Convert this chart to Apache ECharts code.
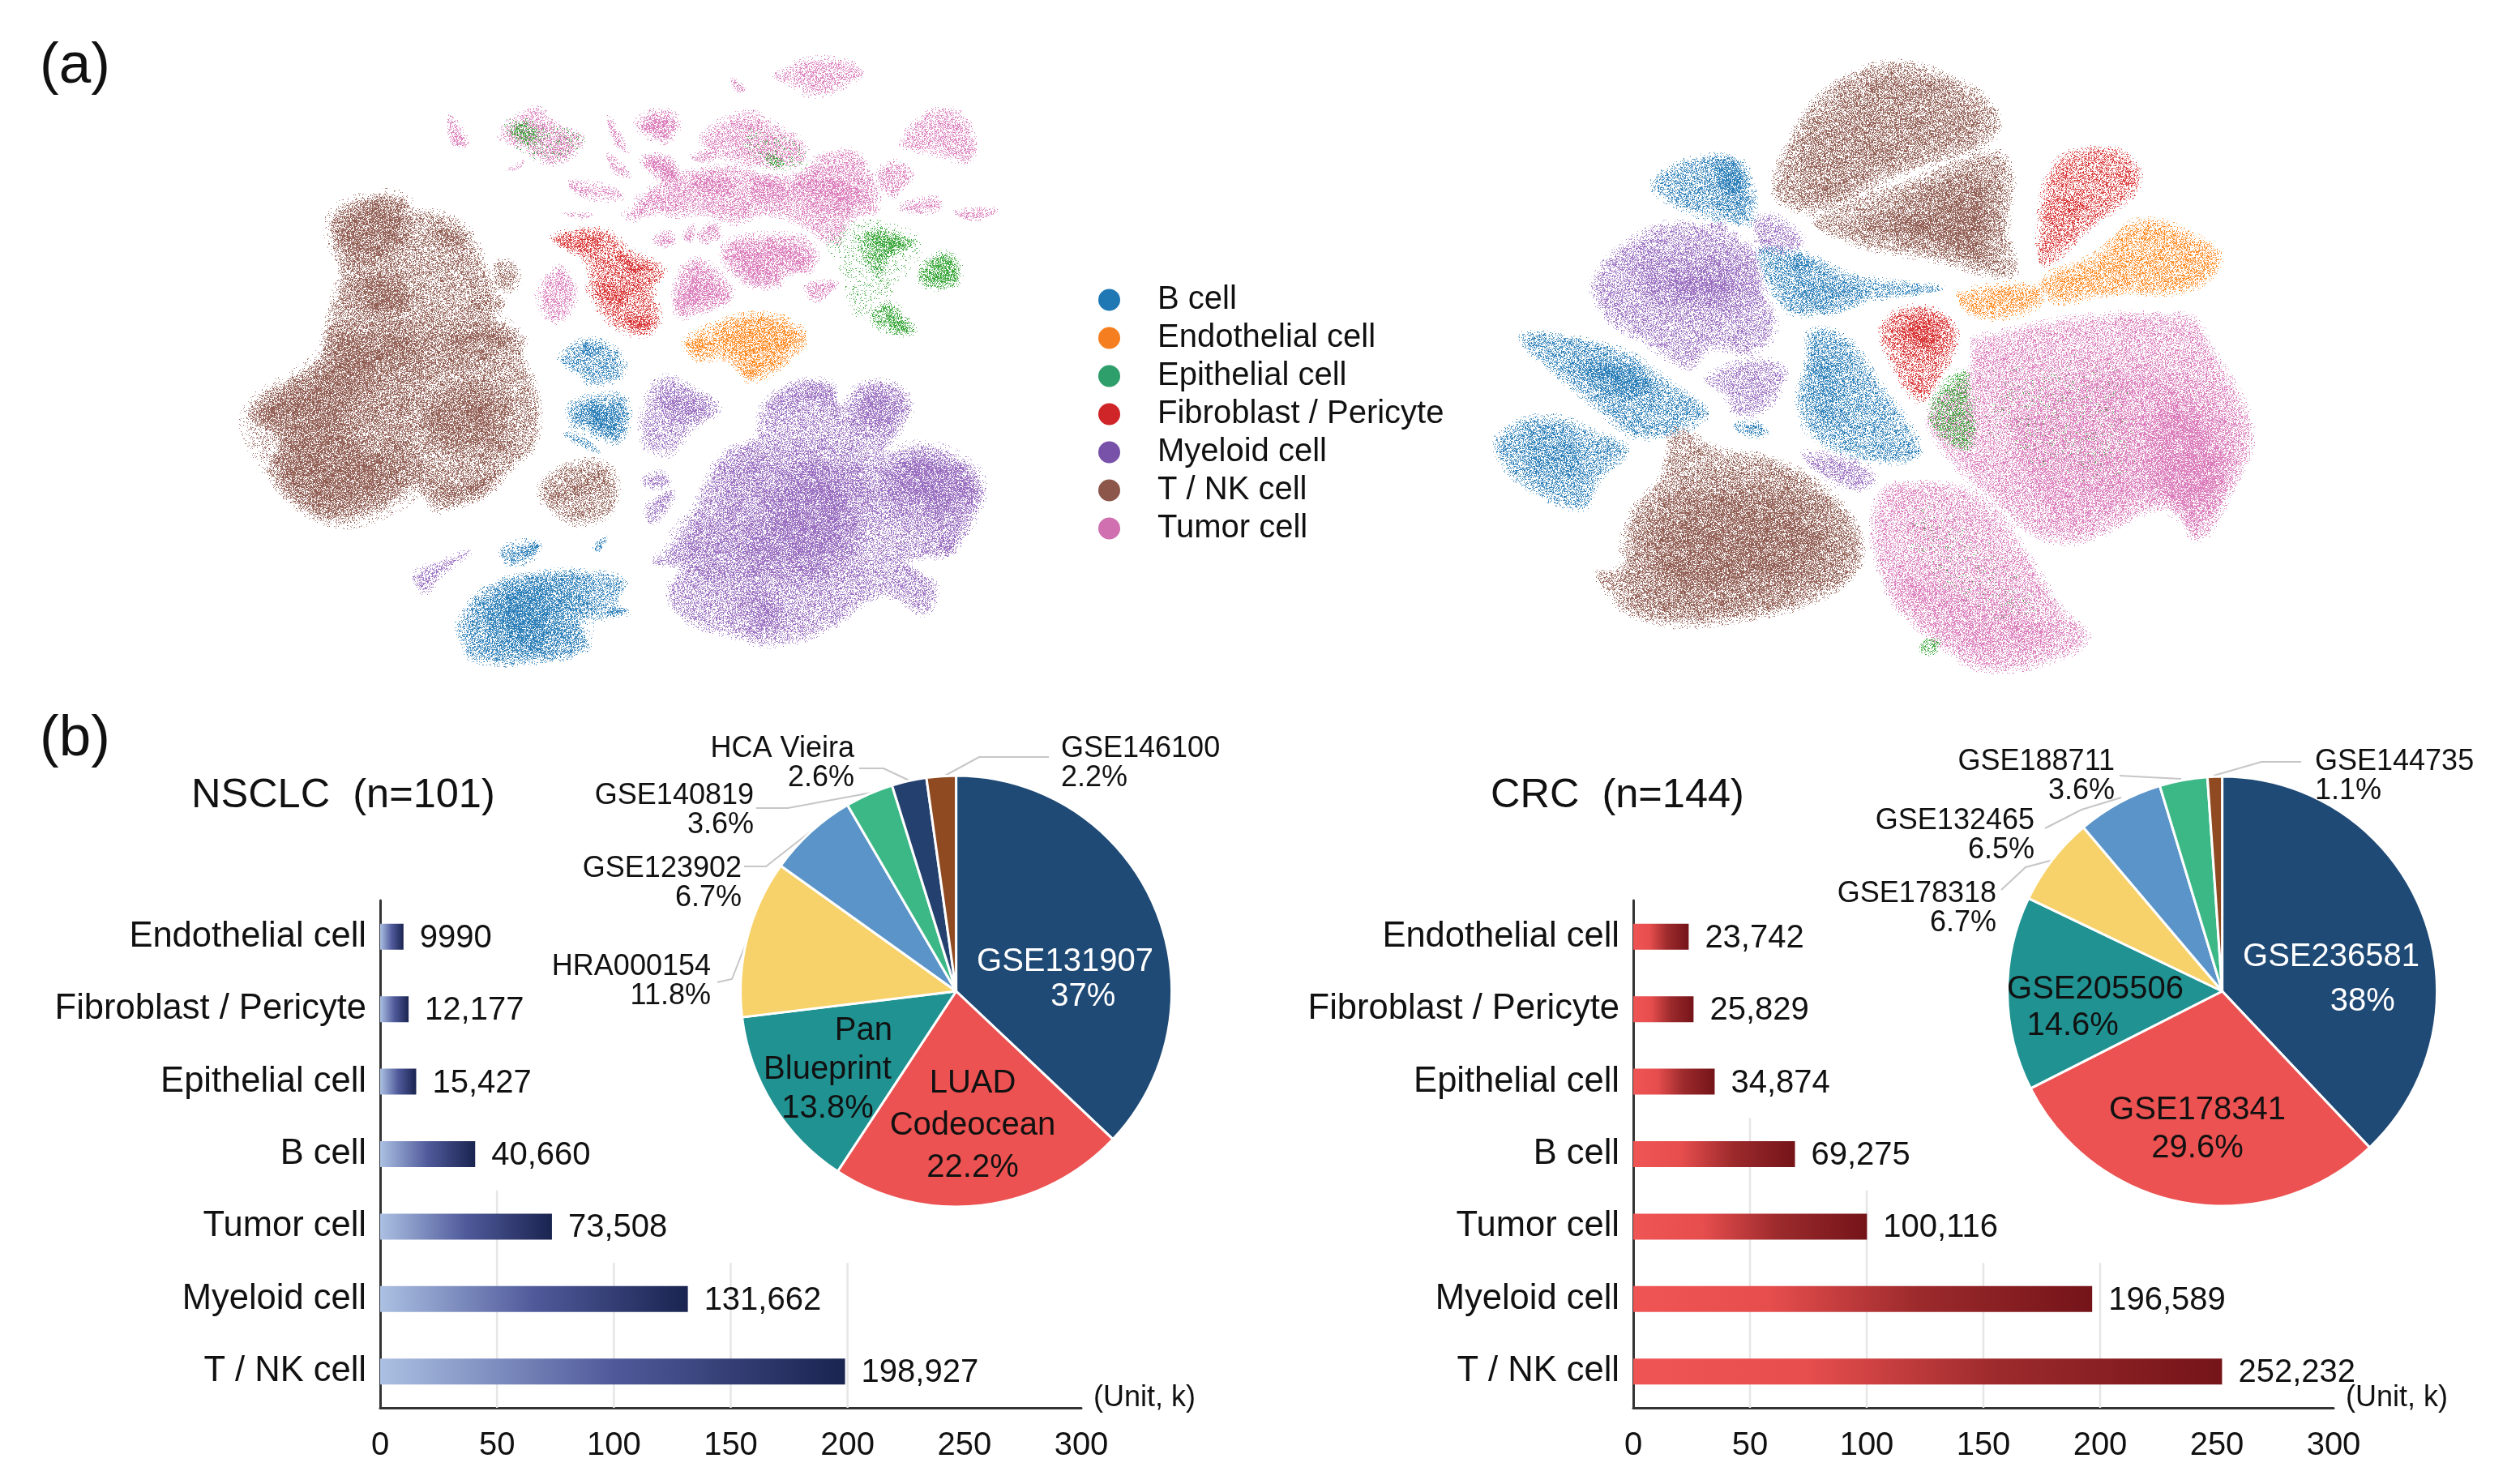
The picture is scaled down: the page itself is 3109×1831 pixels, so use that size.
<!DOCTYPE html>
<html><head><meta charset="utf-8">
<script src="https://cdn.jsdelivr.net/npm/echarts@6/dist/echarts.min.js"></script>
<style>html,body{margin:0;padding:0;background:#fff}#c{width:3109px;height:1831px}</style>
</head><body><div id="c"></div>
<script>
// ---------- bar data ----------
const cellTypes = ['T / NK cell','Myeloid cell','Tumor cell','B cell','Epithelial cell','Fibroblast / Pericyte','Endothelial cell'];
const nsclcCounts = [198927,131662,73508,40660,15427,12177,9990];
const nsclcCountLabels = ['198,927','131,662','73,508','40,660','15,427','12,177','9990'];
const crcCounts = [252232,196589,100116,69275,34874,25829,23742];
const crcCountLabels = ['252,232','196,589','100,116','69,275','34,874','25,829','23,742'];
const axisTicksK = [0,50,100,150,200,250,300];
// gridline value, and how many category bands tall the line is drawn
const nsclcGridlines = [[50000,3],[100000,2],[150000,2],[200000,2]];
const crcGridlines = [[50000,4],[100000,3],[150000,2],[200000,2]];
// ---------- pie data ----------
const nsclcStudies = ['GSE131907','LUAD Codeocean','Pan Blueprint','HRA000154','GSE123902','GSE140819','HCA Vieira','GSE146100'];
const nsclcShares = [37,22.2,13.8,11.8,6.7,3.6,2.6,2.2];
const NB='\u00a0';
const nsclcPieLabels = ['GSE131907\n'+NB.repeat(4)+'37%','LUAD\nCodeocean\n22.2%',NB.repeat(8)+'Pan\nBlueprint\n13.8%','HRA000154\n11.8%','GSE123902\n6.7%','GSE140819\n3.6%','HCA Vieira\n2.6%','GSE146100\n2.2%'];
const crcStudies = ['GSE236581','GSE178341','GSE205506','GSE178318','GSE132465','GSE188711','GSE144735'];
const crcShares = [38,29.6,14.6,6.7,6.5,3.6,1.1];
const crcPieLabels = ['GSE236581\n'+NB.repeat(7)+'38%','GSE178341\n29.6%','GSE205506\n14.6%'+NB.repeat(5),'GSE178318\n6.7%','GSE132465\n6.5%','GSE188711\n3.6%','GSE144735\n1.1%'];
const nsclcPieColors = ['#1f4a75','#ec5252','#219292','#f7d26a','#5a94c8','#3cb887','#24406f','#8f4a22'];
const crcPieColors = ['#1f4a75','#ec5252','#219292','#f7d26a','#5a94c8','#3cb887','#8f4a22'];
// ---------- embedding cluster outlines, in embedding units (y downward) ----------
const nsclcTcellOuter = [
 [[300,385],[370,385],[385,410],[440,420],[490,460],[510,510],[525,560],[540,600],[555,640],[540,680],[590,710],[590,770],[610,830],[620,900],[605,990],[570,1030],[530,1090],[480,1120],[430,1135],[390,1080],[330,1130],[240,1160],[170,1120],[125,1040],[140,970],[85,900],[150,830],[215,770],[235,660],[255,580],[240,480],[245,420]],
 [[545,535],[575,545],[580,590],[560,605],[538,585]],
 [[620,1090],[690,1020],[755,1040],[750,1140],[680,1165]],
 [[490,625],[520,610],[555,640],[510,650]]];
const nsclcTcellMid = [
 [[215,770],[240,690],[560,690],[540,780],[420,820],[400,1000],[420,1040],[360,1120],[240,1160],[125,1040],[85,900]],
 [[245,420],[300,385],[370,385],[380,460],[340,520],[270,530],[240,480]],
 [[270,570],[370,560],[390,650],[300,670],[250,640]],
 [[400,880],[510,820],[570,880],[560,1000],[480,1000],[410,970]]];
const nsclcTcellCore = [
 [[300,395],[365,405],[370,470],[330,525],[275,515],[250,450]],
 [[240,710],[395,710],[395,770],[340,800],[300,860],[285,960],[365,1010],[365,1060],[310,1115],[230,1145],[175,1105],[135,1040],[155,960],[100,900],[155,845],[225,790]],
 [[295,580],[355,580],[375,640],[335,665],[295,635]],
 [[420,885],[500,840],[545,885],[535,975],[480,985],[420,955]],
 [[430,450],[485,475],[465,505],[430,495]],
 [[460,705],[555,695],[555,720],[475,745]],
 [[480,1065],[535,1045],[515,1095],[445,1115],[415,1080]],
 [[630,1105],[740,1045],[745,1060],[660,1110]]];
const nsclcFibroOuter = [[[645,480],[740,460],[790,510],[850,555],[830,600],[840,680],[815,710],[760,690],[715,610],[710,540]]];
const nsclcFibroMid = [];
const nsclcFibroCore = [[[655,485],[735,468],[730,495],[690,508]],[[730,595],[785,605],[775,635],[738,628]],[[765,525],[825,548],[800,575]],[[775,680],[828,672],[815,705]]];
const nsclcEndoOuter = [[[890,730],[960,680],[1030,665],[1090,690],[1110,720],[1070,780],[1040,810],[1005,820],[970,770],[910,770]]];
const nsclcEndoMid = [[[955,700],[1040,672],[1100,712],[1060,775],[985,775]]];
const nsclcEndoCore = [[[888,730],[925,728],[915,752]],[[995,797],[1020,802],[1005,818]]];
const nsclcBcellOuter = [
 [[660,770],[710,725],[770,760],[770,810],[720,830],[690,800]],
 [[680,880],[770,860],[785,905],[765,970],[720,950],[680,930]],
 [[665,950],[700,960],[730,995],[690,975]],
 [[475,1400],[530,1320],[620,1290],[690,1285],[780,1310],[760,1360],[785,1380],[750,1395],[690,1400],[710,1465],[620,1500],[500,1495],[475,1440]],
 [[550,1230],[620,1215],[610,1250],[570,1270]],
 [[720,1225],[745,1200],[730,1235]]];
const nsclcBcellMid = [[[510,1360],[600,1310],[700,1300],[710,1390],[690,1460],[600,1490],[520,1470]],[[690,890],[765,875],[770,960],[715,945]]];
const nsclcBcellCore = [
 [[540,1350],[630,1310],[635,1465],[575,1465],[540,1420]],
 [[705,885],[750,895],[765,945],[722,938]],
 [[700,733],[728,747],[710,768]],
 [[740,1380],[783,1377],[750,1393]],
 [[585,1235],[617,1220],[600,1250]]];
const nsclcMyeloidOuter = [
 [[815,880],[850,815],[900,840],[950,890],[900,940],[860,1000],[825,990],[810,960]],
 [[1030,890],[1090,830],[1160,830],[1175,880],[1210,835],[1270,830],[1305,880],[1280,950],[1260,1000],[1320,985],[1400,1020],[1435,1080],[1420,1150],[1375,1240],[1300,1260],[1350,1320],[1330,1385],[1250,1340],[1170,1410],[1060,1460],[975,1440],[880,1390],[860,1320],[880,1280],[830,1260],[880,1200],[920,1090],[960,1000],[1020,960]],
 [[810,1060],[850,1045],[860,1075],[820,1080]],
 [[815,1130],[870,1090],[830,1170]],
 [[390,1295],[430,1265],[495,1235],[440,1290],[410,1335]],
 [[1350,1220],[1390,1190],[1375,1245]]];
const nsclcMyeloidMid = [
 [[970,1010],[1130,990],[1230,1060],[1210,1220],[1170,1290],[1060,1320],[940,1300],[870,1250],[880,1180],[960,1120]],
 [[1250,1020],[1330,985],[1420,1040],[1430,1100],[1390,1190],[1310,1170],[1240,1100]]];
const nsclcMyeloidCore = [
 [[1090,1050],[1190,1070],[1190,1190],[1160,1260],[1080,1275],[1000,1250],[1040,1150]],
 [[1280,1030],[1330,1000],[1400,1045],[1420,1090],[1390,1140],[1325,1130],[1260,1080]],
 [[1200,880],[1250,840],[1290,885],[1262,950],[1210,940]],
 [[1050,880],[1100,840],[1155,848],[1160,875],[1110,872],[1058,892]],
 [[985,1345],[1035,1340],[1070,1390],[1030,1440],[998,1400]],
 [[850,865],[900,852],[935,890],[890,918],[852,895]],
 [[1355,1210],[1385,1200],[1372,1240]]];
const nsclcTumorOuter = [
 [[800,390],[870,330],[930,310],[990,310],[1050,330],[1100,320],[1140,280],[1200,270],[1235,340],[1240,410],[1200,430],[1165,490],[1100,440],[1040,420],[980,440],[920,420],[860,420]],
 [[920,240],[1000,175],[1060,210],[1110,260],[1090,300],[1010,300],[960,280]],
 [[675,345],[760,360],[775,380],[700,375]],
 [[665,420],[720,420],[700,430]],
 [[810,285],[860,285],[880,340],[850,340]],
 [[775,425],[850,375],[880,395],[810,425],[790,432]],
 [[900,280],[950,260],[940,290],[910,290]],
 [[830,480],[860,460],[870,490],[840,495]],
 [[885,470],[905,445],[900,490]],
 [[915,470],[940,440],[955,470],[925,490]],
 [[965,490],[1040,470],[1120,490],[1125,550],[1075,565],[1060,590],[1010,590],[960,530]],
 [[1110,595],[1170,585],[1130,630]],
 [[800,200],[840,170],[875,190],[860,240],[820,230]],
 [[1055,90],[1130,45],[1215,75],[1180,110],[1120,130],[1080,100]],
 [[1290,250],[1345,170],[1405,190],[1415,285],[1340,270]],
 [[1245,320],[1280,295],[1305,325],[1270,375]],
 [[1280,405],[1350,380],[1360,405],[1310,415]],
 [[1385,415],[1465,410],[1420,435]],
 [[550,230],[610,165],[650,200],[700,240],[650,295],[590,260]],
 [[455,180],[490,250],[460,250]],
 [[745,180],[785,270],[760,250]],
 [[745,275],[790,330],[760,320]],
 [[975,90],[1000,115],[985,125]],
 [[560,315],[595,290],[580,310]],
 [[660,550],[685,620],[650,680],[620,630],[630,580]],
 [[870,610],[900,530],[950,560],[975,620],[930,650],[880,665]]];
const nsclcTumorCore = [
 [[815,288],[855,292],[875,335],[845,332]],
 [[1045,482],[1100,505],[1122,540],[1090,555],[1052,520]],
 [[968,510],[1018,495],[1055,570],[1010,585],[975,540]],
 [[1095,335],[1165,325],[1225,370],[1160,405],[1102,372]],
 [[905,335],[955,325],[975,365],[925,375]],
 [[1012,342],[1058,338],[1068,378],[1022,382]],
 [[815,195],[858,185],[858,228],[825,222]],
 [[880,620],[905,560],[950,590],[965,620],[925,640],[885,655]]];
const nsclcEpithFaint = [[[1150,480],[1230,440],[1320,490],[1270,600],[1210,670],[1175,540]],[[1000,220],[1110,270],[1100,310],[1020,290]],[[560,200],[640,210],[700,240],[650,290],[590,265]]];
const nsclcEpithOuter = [
 [[1210,480],[1235,460],[1310,490],[1260,530],[1250,575],[1225,540]],
 [[1320,560],[1370,515],[1395,550],[1385,590],[1330,590]],
 [[1235,660],[1265,635],[1310,705],[1250,700]],
 [[570,215],[600,195],[620,240],[590,245]],
 [[1040,280],[1060,285],[1070,300],[1045,300]]];
const nsclcEpithCore = [[[1235,472],[1298,490],[1255,518]],[[1325,565],[1375,522],[1390,555],[1378,585],[1335,585]],[[1262,652],[1303,698],[1265,693]]];

const crcTcellOuter = [
 [[1040,55],[1120,90],[1175,170],[1170,240],[1060,320],[950,415],[900,370],[920,240],[960,130]],
 [[1175,270],[1195,320],[1190,460],[1200,560],[1180,570],[1100,530],[1000,490],[950,435],[1060,345]],
 [[775,940],[830,990],[880,1005],[930,1040],[960,1090],[1000,1170],[1005,1270],[960,1340],[850,1400],[730,1395],[690,1330],[680,1290],[710,1270],[720,1150],[760,1050]]];
const crcTcellMid = [
 [[1030,90],[1130,140],[1150,220],[1040,310],[950,390],[930,270],[970,170]],
 [[1160,310],[1170,520],[1090,500],[1000,460],[1060,380]],
 [[790,1070],[930,1060],[995,1180],[985,1300],[870,1385],[740,1385],[715,1250],[730,1150]]];
const crcTcellCore = [
 [[1090,390],[1160,360],[1160,510],[1090,490],[1040,450]],
 [[820,1110],[910,1110],[960,1180],[950,1270],[860,1330],[770,1320],[750,1230],[760,1160]]];
const crcFibroOuter = [[[1250,300],[1305,260],[1350,300],[1350,360],[1300,440],[1235,540],[1230,470]],[[1035,690],[1080,645],[1125,700],[1110,800],[1080,870],[1050,790]]];
const crcFibroMid = [[[1050,690],[1085,660],[1115,700],[1095,760],[1065,750]]];
const crcFibroCore = [[[1262,385],[1285,392],[1270,425]],[[1060,690],[1085,668],[1105,700],[1085,740]]];
const crcEndoOuter = [[[1235,580],[1300,520],[1355,435],[1430,480],[1455,530],[1420,600],[1320,610],[1250,630]],[[1130,615],[1225,595],[1230,640],[1155,668]]];
const crcEndoMid = [];
const crcEndoCore = [];
const crcBcellOuter = [
 [[748,350],[780,300],[845,285],[870,350],[870,440],[850,440],[790,410]],
 [[880,510],[925,510],[1000,570],[1110,600],[1010,630],[960,660],[915,650]],
 [[585,715],[700,745],[770,830],[815,905],[735,960],[680,890]],
 [[555,960],[610,910],[680,950],[715,990],[680,1060],[660,1130],[600,1090],[560,1020]],
 [[850,930],[880,925],[890,950],[865,955]],
 [[945,705],[985,715],[1030,830],[1080,990],[1040,1020],[950,960],[930,880],[940,780]]];
const crcBcellMid = [
 [[650,770],[730,790],[750,860],[690,860]],
 [[590,960],[640,950],[660,1030],[605,1050]],
 [[945,770],[975,760],[985,900],[955,920]],
 [[925,580],[990,590],[1010,620],[945,645]],
 [[825,290],[860,300],[860,410],[825,370]]];
const crcBcellCore = [
 [[918,522],[948,532],[930,562]],
 [[835,300],[858,310],[855,380],[835,360]],
 [[665,785],[725,800],[735,845],[690,845]]];
const crcMyeloidOuter = [
 [[675,580],[740,460],[800,445],[870,500],[885,600],[900,700],[870,755],[820,745],[795,790],[730,720],[690,670]],
 [[875,440],[900,425],[935,490],[885,505]],
 [[815,445],[840,445],[835,465]],
 [[815,820],[870,775],[910,790],[905,850],[880,900],[850,900],[840,860]],
 [[935,1000],[1000,1020],[1025,1060],[1000,1085],[960,1050]]];
const crcMyeloidMid = [[[730,530],[855,520],[875,625],[800,660],[745,630]]];
const crcMyeloidCore = [[[765,570],[835,565],[845,610],[790,625]]];
const crcTumorOuter = [
 [[1150,720],[1410,665],[1450,760],[1495,950],[1465,1100],[1430,1205],[1390,1130],[1260,1215],[1160,1090],[1100,960],[1095,890],[1145,790]],
 [[1030,1100],[1110,1075],[1170,1120],[1210,1230],[1260,1380],[1290,1440],[1260,1490],[1160,1520],[1100,1450],[1040,1330]]];
const crcTumorMid = [
 [[1200,900],[1350,800],[1450,880],[1470,1050],[1420,1190],[1390,1100],[1260,1170],[1210,1050]],
 [[1060,1300],[1150,1340],[1250,1430],[1170,1490],[1100,1420]]];
const crcTumorCore = [[[1380,880],[1440,920],[1460,1040],[1420,1150],[1370,1050]]];
const crcEpithFaint = [[[1160,850],[1310,800],[1330,1040],[1220,1020]],[[1070,1130],[1150,1210],[1220,1400],[1120,1340]]];
const crcEpithOuter = [[[1135,800],[1145,880],[1145,985],[1110,960],[1095,890]],[[1085,1455],[1105,1450],[1100,1480],[1082,1478]]];
const crcEpithCore = [];

const legendNames = ['B cell','Endothelial cell','Epithelial cell','Fibroblast / Pericyte','Myeloid cell','T / NK cell','Tumor cell'];
const legendColors = ['#1f77b4','#f57f20','#2e9e6a','#cf2428','#7851a9','#8c564b','#d070b0'];
const umapColors = ['#1f77b4','#ff7f0e','#2ca02c','#d62728','#9467bd','#8c564b','#d873b6'];

// ---------- helpers ----------
const FONT='"Liberation Sans",Arial,sans-serif', INK='#111';
const colorOf = n => legendColors[legendNames.indexOf(n)];
// fixed dot tile so filled clusters read as point clouds of a given density
let tileSeed=12345;
function speckle(hex,density){
  const size=128,cv=document.createElement('canvas');cv.width=cv.height=size;
  const g=cv.getContext('2d'),r=parseInt(hex.slice(1,3),16),gg=parseInt(hex.slice(3,5),16),b=parseInt(hex.slice(5,7),16);
  let s=(tileSeed+=7919);
  for(let y=0;y<size;y++)for(let x=0;x<size;x++){
    s=(s*1103515245+12345)&0x7fffffff;
    if(((s>>8)%1000)/1000<density){g.fillStyle='rgba('+r+','+gg+','+b+','+(0.6+((s>>16)%40)/100)+')';g.fillRect(x,y,1,1);}
  }
  return {image:cv,repeat:'repeat'};
}
// shift a pixel-space outline along its normals so density fades towards the edge
function offsetOutline(pts,d){
  let area=0;const n=pts.length;
  for(let i=0;i<n;i++){const a=pts[i],b=pts[(i+1)%n];area+=a[0]*b[1]-b[0]*a[1];}
  const lim=0.16*Math.sqrt(Math.abs(area)/2),dist=Math.sign(d)*Math.min(Math.abs(d),lim),turn=area>0?1:-1;
  return pts.map((p,i)=>{
    const a=pts[(i-1+n)%n],b=pts[(i+1)%n],dx=b[0]-a[0],dy=b[1]-a[1],l=Math.hypot(dx,dy)||1;
    return [p[0]+turn*dy/l*dist,p[1]-turn*dx/l*dist];
  });
}
function clusterSeries(name,axis,polys,layers){
  const hex=umapColors[legendNames.indexOf(name)],tiles=layers.map(l=>({d:l[0],fill:speckle(hex,l[1])}));
  return {type:'custom',name,xAxisIndex:axis,yAxisIndex:axis,silent:true,itemStyle:{color:colorOf(name)},
    data:polys.map(p=>p[0]),
    renderItem:(params,api)=>{
      const pts=polys[params.dataIndex].map(p=>api.coord(p));
      return {type:'group',children:tiles.map(t=>({type:'polygon',
        shape:{points:offsetOutline(pts,t.d),smooth:0.4},style:{fill:t.fill}}))};
    }};
}
const FAINT=[[4,.05],[-4,.06]], FAINT_LOW=[[14,.008],[0,.012],[-14,.015]];
const OUTER=[[5,.1],[1,.17],[-3,.18],[-9,.1]], MID=[[10,.08],[0,.1],[-10,.12]], CORE=[[12,.08],[4,.1],[-6,.14],[-16,.16]];
function cluster(name,axis,outer,mid,core,faint,faintLayers){
  return [...(faint?[clusterSeries(name,axis,faint,faintLayers||FAINT)]:[]),clusterSeries(name,axis,outer,OUTER),clusterSeries(name,axis,mid,MID),clusterSeries(name,axis,core,CORE)];
}
function gridlineSeries(lines,xi,yi){
  return {type:'custom',xAxisIndex:xi,yAxisIndex:yi,silent:true,z:1,data:lines,
    renderItem:(params,api)=>{
      const a=api.coord([api.value(0),0]),b=api.coord([api.value(0),api.value(1)]);
      return {type:'line',shape:{x1:a[0],y1:a[1],x2:b[0],y2:b[1]},style:{stroke:'#e6e6e6',lineWidth:2.5}};
    }};
}
const barGradBlue={type:'linear',x:0,y:0,x2:1,y2:0,colorStops:[{offset:0,color:'#abc0e2'},{offset:.5,color:'#505a9b'},{offset:1,color:'#1a2450'}]};
const barGradRed={type:'linear',x:0,y:0,x2:1,y2:0,colorStops:[{offset:0,color:'#f05555'},{offset:.3,color:'#e64d4d'},{offset:.62,color:'#9c2a2c'},{offset:1,color:'#741419'}]};
function barSeries(values,labels,xi,yi,grad){
  return {type:'bar',xAxisIndex:xi,yAxisIndex:yi,barWidth:32,z:2,data:values,itemStyle:{color:grad},
    label:{show:true,position:'right',distance:20,offset:[0,2],fontFamily:FONT,fontSize:40,color:INK,formatter:p=>labels[p.dataIndex]}};
}
function pieSeries(center,radius,names,shares,colors,labels,place){
  return {type:'pie',center,radius,startAngle:90,clockwise:true,avoidLabelOverlap:false,minShowLabelAngle:0,z:5,
    itemStyle:{borderColor:'#fff',borderWidth:3},
    data:names.map((n,i)=>({name:n,value:shares[i],itemStyle:{color:colors[i]},
      label:{color:place[i].c||INK,fontSize:place[i].fs||36,lineHeight:place[i].lh||36},
      labelLine:{show:!!place[i].line}})),
    label:{show:true,position:'outside',fontFamily:FONT,formatter:p=>labels[p.dataIndex]},
    labelLine:{show:true,lineStyle:{color:'#c6c6c6',width:2}},
    labelLayout:p=>{const q=place[p.dataIndex];return {x:q.x,y:q.y,align:q.a||'center',verticalAlign:'middle',labelLinePoints:q.line};}};
}
const nsclcPlace=[
 {x:1314,y:1208,c:'#fff',fs:40,lh:43},{x:1200,y:1389,fs:40,lh:52},{x:1021,y:1320,fs:40,lh:48},
 {x:877,y:1211,a:'right',line:[[885,1212],[903,1208],[923,1157]]},
 {x:915,y:1090,a:'right',line:[[918,1069],[945,1069],[1000,1026]]},
 {x:930,y:1000,a:'right',line:[[933,997],[972,997],[1075,978]]},
 {x:1054,y:942,a:'right',line:[[1060,948],[1090,948],[1124,964]]},
 {x:1309,y:942,a:'left',line:[[1294,934],[1208,934],[1164,958]]}];
const crcPlace=[
 {x:2876,y:1208,c:'#fff',fs:40,lh:55},{x:2711,y:1393,fs:40,lh:47},{x:2585,y:1243,fs:40,lh:45},
 {x:2463,y:1121,a:'right',line:[[2469,1098],[2499,1070],[2533,1061]]},
 {x:2510,y:1031,a:'right',line:[[2523,1022],[2568,999],[2617,984]]},
 {x:2609,y:958,a:'right',line:[[2615,957],[2652,959],[2691,961]]},
 {x:2856,y:958,a:'left',line:[[2839,940],[2790,940],[2731,957]]}];
const hiddenX=g=>({type:'value',gridIndex:g,min:0,max:1568,show:false});
const hiddenY=g=>({type:'value',gridIndex:g,min:0,max:1568,inverse:true,show:false});
const countAxis=g=>({type:'value',gridIndex:g,min:0,max:300000,interval:50000,
  axisLine:{show:true,lineStyle:{color:'#333',width:3}},axisTick:{show:false},splitLine:{show:false},
  axisLabel:{fontFamily:FONT,fontSize:40,color:INK,margin:27,formatter:v=>axisTicksK[v/50000]},
  name:'(Unit, k)',nameLocation:'end',nameGap:15,nameTextStyle:{fontFamily:FONT,fontSize:36,color:INK,verticalAlign:'bottom',lineHeight:24}});
const catAxis=g=>({type:'category',gridIndex:g,data:cellTypes,
  axisLine:{show:true,lineStyle:{color:'#333',width:3}},axisTick:{show:false},
  axisLabel:{fontFamily:FONT,fontSize:43.5,color:INK,margin:17,padding:[4,0,0,0]}});
const bandAxis=g=>({type:'value',gridIndex:g,min:0,max:7,show:false,position:'right'});
const titleAt=(text,left,cy,size)=>({text,left,top:cy-size/2,padding:0,textStyle:{fontFamily:FONT,fontWeight:'normal',fontSize:size,lineHeight:size,color:INK}});

const chart=echarts.init(document.getElementById('c'),null,{renderer:'canvas'});
chart.setOption({
  animation:false,backgroundColor:'#fff',
  title:[titleAt('(a)',49,82,71),titleAt('(b)',49,912,71),titleAt('NSCLC  (n=101)',236,982,50.5),titleAt('CRC  (n=144)',1839,982,50.5)],
  legend:{data:legendNames,orient:'vertical',left:1355,top:350,padding:0,itemWidth:27,itemHeight:27,itemGap:7,icon:'circle',selectedMode:false,
    textStyle:{fontFamily:FONT,fontSize:40,lineHeight:40,color:INK,padding:[0,0,0,41]}},
  grid:[
    {left:250,top:50,width:1050,height:800},
    {left:1300,top:50,width:1550,height:800},
    {left:469,top:1111,width:865,height:626},
    {left:2015,top:1111,width:864,height:626}],
  xAxis:[hiddenX(0),hiddenX(1),countAxis(2),countAxis(3)],
  yAxis:[hiddenY(0),hiddenY(1),catAxis(2),catAxis(3),bandAxis(2),bandAxis(3)],
  series:[
    ...cluster('T / NK cell',0,nsclcTcellOuter,nsclcTcellMid,nsclcTcellCore),
    ...cluster('Fibroblast / Pericyte',0,nsclcFibroOuter,nsclcFibroMid,nsclcFibroCore),
    ...cluster('Endothelial cell',0,nsclcEndoOuter,nsclcEndoMid,nsclcEndoCore),
    ...cluster('B cell',0,nsclcBcellOuter,nsclcBcellMid,nsclcBcellCore),
    ...cluster('Myeloid cell',0,nsclcMyeloidOuter,nsclcMyeloidMid,nsclcMyeloidCore),
    ...cluster('Tumor cell',0,nsclcTumorOuter,[],nsclcTumorCore),
    ...cluster('Epithelial cell',0,nsclcEpithOuter,[],nsclcEpithCore,nsclcEpithFaint),
    ...cluster('T / NK cell',1,crcTcellOuter,crcTcellMid,crcTcellCore),
    ...cluster('Fibroblast / Pericyte',1,crcFibroOuter,crcFibroMid,crcFibroCore),
    ...cluster('Endothelial cell',1,crcEndoOuter,crcEndoMid,crcEndoCore),
    ...cluster('B cell',1,crcBcellOuter,crcBcellMid,crcBcellCore),
    ...cluster('Myeloid cell',1,crcMyeloidOuter,crcMyeloidMid,crcMyeloidCore),
    ...cluster('Tumor cell',1,crcTumorOuter,crcTumorMid,crcTumorCore),
    ...cluster('Epithelial cell',1,crcEpithOuter,[],crcEpithCore,crcEpithFaint,FAINT_LOW),
    gridlineSeries(nsclcGridlines,2,4),
    gridlineSeries(crcGridlines,3,5),
    barSeries(nsclcCounts,nsclcCountLabels,2,2,barGradBlue),
    barSeries(crcCounts,crcCountLabels,3,3,barGradRed),
    pieSeries([1179.6,1223],266,nsclcStudies,nsclcShares,nsclcPieColors,nsclcPieLabels,nsclcPlace),
    pieSeries([2741.6,1223],265,crcStudies,crcShares,crcPieColors,crcPieLabels,crcPlace)
  ]
});
</script></body></html>
